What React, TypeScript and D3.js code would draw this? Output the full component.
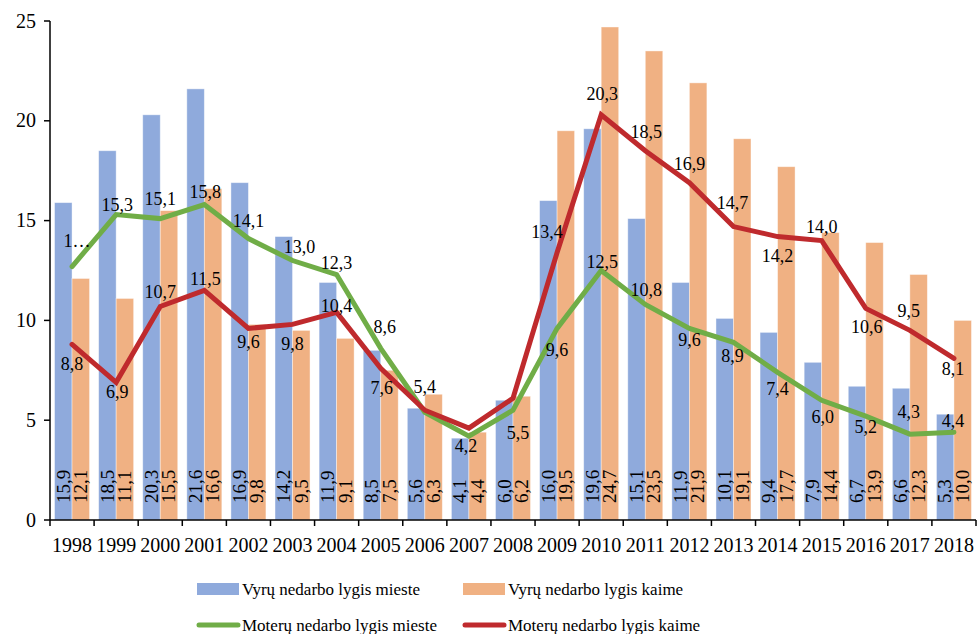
import React from "react";
import * as d3 from "d3";

const years = ["1998","1999","2000","2001","2002","2003","2004","2005","2006","2007","2008","2009","2010","2011","2012","2013","2014","2015","2016","2017","2018"];
const vyruMieste = [15.9,18.5,20.3,21.6,16.9,14.2,11.9,8.5,5.6,4.1,6.0,16.0,19.6,15.1,11.9,10.1,9.4,7.9,6.7,6.6,5.3];
const vyruKaime = [12.1,11.1,15.5,16.6,9.8,9.5,9.1,7.5,6.3,4.4,6.2,19.5,24.7,23.5,21.9,19.1,17.7,14.4,13.9,12.3,10.0];
const moteruMieste = [12.7,15.3,15.1,15.8,14.1,13.0,12.3,8.6,5.4,4.2,5.5,9.6,12.5,10.8,9.6,8.9,7.4,6.0,5.2,4.3,4.4];
const moteruKaime = [8.8,6.9,10.7,11.5,9.6,9.8,10.4,7.6,5.5,4.6,6.1,13.4,20.3,18.5,16.9,14.7,14.2,14.0,10.6,9.5,8.1];
const yTicks = [0,5,10,15,20,25];
const seriesNames = ["Vyrų nedarbo lygis mieste","Vyrų nedarbo lygis kaime","Moterų nedarbo lygis mieste","Moterų nedarbo lygis kaime"];

// label placement offsets (dx, dy of baseline relative to point); null = hidden
const greenLabelOffsets: ([number, number] | null)[] = [
  [5,-20],[1,-4],[0,-14],[1,-7],[0,-12],[7,-8],[0,-5],[4,-15],[0,-19],[-3,16],[5,29],
  [0,28],[1,-3],[1,-8],[0,18],[-1,20],[0,23],[1,23],[0,17],[-1,-16],[-1,-5]
];
const redLabelOffsets: ([number, number] | null)[] = [
  [0,26],[1,16],[0,-8],[1,-5],[0,20],[0,26],[0,0],[1,26],null,null,null,
  [-10,-15],[1,-15],[1,-13],[0,-13],[-1,-18],[0,25],[0,-8],[1,25],[-1,-13],[-1,17]
];

const fmt = (v: number) => v.toFixed(1).replace(".", ",");

const BLUE = "#8FAADC";
const ORANGE = "#F0B183";
const GREEN = "#70AD47";
const RED = "#BF2A2D";
const FONT = "'Liberation Serif', 'Times New Roman', serif";

export default function App() {
  const x = d3.scaleBand<string>().domain(years).range([50, 976]).padding(0);
  const y = d3.scaleLinear().domain([0, 25]).range([520, 21]);
  const bw = x.bandwidth();
  const barW = 17.5;
  const off = (bw - 2 * barW) / 2;
  const cx = (i: number) => (x(years[i]) as number) + bw / 2;

  const line = d3.line<number>().x((_, i) => cx(i)).y((v) => y(v));

  return (
    <svg width={978} height={634} style={{ position: "absolute", left: 0, top: 0, fontFamily: FONT }}>
      <rect width={978} height={634} fill="#fff" />
      {/* bars */}
      {years.map((yr, i) => {
        const x0 = (x(yr) as number) + off;
        return (
          <g key={yr}>
            <rect x={x0} y={y(vyruMieste[i])} width={barW} height={y(0) - y(vyruMieste[i])} fill={BLUE} stroke="#fff" strokeOpacity={0.5} strokeWidth={0.8} />
            <rect x={x0 + barW} y={y(vyruKaime[i])} width={barW} height={y(0) - y(vyruKaime[i])} fill={ORANGE} stroke="#fff" strokeOpacity={0.5} strokeWidth={0.8} />
          </g>
        );
      })}
      {/* bar labels */}
      {years.map((yr, i) => {
        const x0 = (x(yr) as number) + off;
        return (
          <g key={"bl" + yr} fontSize={19} fill="#000">
            <text transform={`translate(${x0 + barW / 2},503) rotate(-90)`} dy="0.33em">{fmt(vyruMieste[i])}</text>
            <text transform={`translate(${x0 + barW * 1.5},503) rotate(-90)`} dy="0.33em">{fmt(vyruKaime[i])}</text>
          </g>
        );
      })}
      {/* lines */}
      <path d={line(moteruMieste) || ""} fill="none" stroke={GREEN} strokeWidth={5} strokeLinejoin="miter" strokeLinecap="round" />
      <path d={line(moteruKaime) || ""} fill="none" stroke={RED} strokeWidth={5} strokeLinejoin="miter" strokeLinecap="round" />
      {/* line labels */}
      {moteruMieste.map((v, i) => {
        const o = greenLabelOffsets[i];
        if (!o) return null;
        return (
          <text key={"gl" + i} x={cx(i) + o[0]} y={y(v) + o[1]} textAnchor="middle" fontSize={18}>
            {i === 0 ? "1…" : fmt(v)}
          </text>
        );
      })}
      {moteruKaime.map((v, i) => {
        const o = redLabelOffsets[i];
        if (!o) return null;
        return (
          <text key={"rl" + i} x={cx(i) + o[0]} y={y(v) + o[1]} textAnchor="middle" fontSize={18}>
            {fmt(v)}
          </text>
        );
      })}
      {/* y axis */}
      <line x1={50} x2={50} y1={21} y2={520} stroke="#000" strokeWidth={1.5} />
      {yTicks.map((t) => (
        <g key={"yt" + t}>
          <line x1={44} x2={50} y1={y(t)} y2={y(t)} stroke="#000" strokeWidth={1.5} />
          <text x={36} y={y(t)} dy="0.33em" textAnchor="end" fontSize={20}>{t}</text>
        </g>
      ))}
      {/* x axis */}
      <line x1={50} x2={976} y1={520} y2={520} stroke="#000" strokeWidth={1.5} />
      {years.map((yr, i) => (
        <g key={"xt" + yr}>
          <line x1={(x(yr) as number)} x2={(x(yr) as number)} y1={520} y2={526} stroke="#000" strokeWidth={1.5} />
          <text x={cx(i)} y={552} textAnchor="middle" fontSize={20}>{yr}</text>
        </g>
      ))}
      <line x1={976} x2={976} y1={520} y2={526} stroke="#000" strokeWidth={1.5} />
      {/* legend */}
      <g fontSize={17}>
        <rect x={197} y={583} width={42} height={12} fill={BLUE} />
        <text x={242} y={595}>{seriesNames[0]}</text>
        <rect x={463} y={583} width={42} height={12} fill={ORANGE} />
        <text x={508} y={595}>{seriesNames[1]}</text>
        <line x1={199} x2={238} y1={625} y2={625} stroke={GREEN} strokeWidth={5} strokeLinecap="round" />
        <text x={242} y={631}>{seriesNames[2]}</text>
        <line x1={465} x2={504} y1={625} y2={625} stroke={RED} strokeWidth={5} strokeLinecap="round" />
        <text x={508} y={631}>{seriesNames[3]}</text>
      </g>
    </svg>
  );
}
